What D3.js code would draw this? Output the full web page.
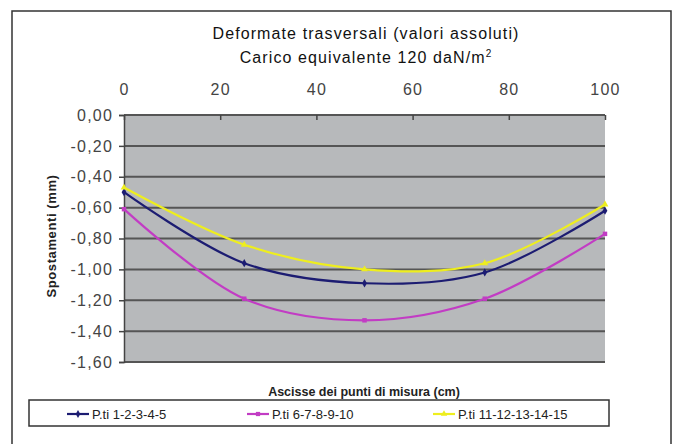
<!DOCTYPE html>
<html>
<head>
<meta charset="utf-8">
<script src="https://cdn.jsdelivr.net/npm/d3@7"></script>
<style>
  body { margin: 0; background: #fff; }
  text { font-family: "Liberation Sans", Arial, sans-serif; }
</style>
</head>
<body>
<div id="graphic"></div>
<script>
// data
const ascisse = [0, 25, 50, 75, 100];
const serie1 = [-0.50, -0.96, -1.09, -1.02, -0.62];   // P.ti 1-2-3-4-5
const serie2 = [-0.61, -1.19, -1.33, -1.19, -0.77];   // P.ti 6-7-8-9-10
const serie3 = [-0.47, -0.84, -1.00, -0.96, -0.58];   // P.ti 11-12-13-14-15
const nomi = ["P.ti 1-2-3-4-5", "P.ti 6-7-8-9-10", "P.ti 11-12-13-14-15"];
const xTicks = [0, 20, 40, 60, 80, 100];
const yTicks = [0, -0.2, -0.4, -0.6, -0.8, -1.0, -1.2, -1.4, -1.6];

const colori = ["#1c1c72", "#c23cc4", "#eeee1e"];
const simboli = [d3.symbolDiamond, d3.symbolSquare, d3.symbolTriangle];

const width = 675, height = 444;
// plot area
const plot = {left: 124, right: 605, top: 115, bottom: 362};

var svg = d3.select("#graphic").append("svg")
        .attr("width", width)
        .attr("height", height);

// outer frame
svg.append("rect")
        .attr("x", 12).attr("y", 11)
        .attr("width", 659).attr("height", 500)
        .style("fill", "#fff")
        .style("stroke", "#333")
        .style("stroke-width", 1.5);

// titles
svg.append("text")
        .attr("x", 366).attr("y", 39)
        .attr("text-anchor", "middle")
        .style("font-size", "16px")
        .style("letter-spacing", "1.1px")
        .style("fill", "#111")
        .text("Deformate trasversali (valori assoluti)");

var t2 = svg.append("text")
        .attr("x", 366).attr("y", 63)
        .attr("text-anchor", "middle")
        .style("font-size", "16px")
        .style("letter-spacing", "1.1px")
        .style("fill", "#111");
t2.append("tspan").text("Carico equivalente 120 daN/m");
t2.append("tspan").attr("dy", -6).style("font-size", "10px").text("2");

// scales
var x = d3.scaleLinear().domain([0, 100]).range([plot.left, plot.right]);
var y = d3.scaleLinear().domain([0, -1.6]).range([plot.top, plot.bottom]);

// plot background
svg.append("rect")
        .attr("x", plot.left).attr("y", plot.top)
        .attr("width", plot.right - plot.left)
        .attr("height", plot.bottom - plot.top)
        .style("fill", "#b7b9bb");

// horizontal gridlines
svg.append("g").selectAll("line")
        .data(yTicks)
        .join("line")
        .attr("x1", plot.left).attr("x2", plot.right)
        .attr("y1", d => y(d)).attr("y2", d => y(d))
        .style("stroke", "#555")
        .style("stroke-width", 2);

// y axis (left)
var fmt = d => d3.format(".2f")(d).replace(".", ",").replace("−", "-");
var y_axis = d3.axisLeft(y)
        .tickValues(yTicks)
        .tickFormat(fmt)
        .tickSize(5)
        .tickPadding(6);

var gy = svg.append("g")
        .attr("transform", "translate(" + plot.left + ",0)")
        .call(y_axis);
gy.select(".domain").style("stroke", "#444").style("stroke-width", 1.5);
gy.selectAll(".tick line").style("stroke", "#444").style("stroke-width", 1.5);
gy.selectAll("text")
        .style("font-size", "16px")
        .style("letter-spacing", "1.2px")
        .style("fill", "#444");

// x axis (top), ticks pointing into the plot
var x_axis = d3.axisTop(x)
        .tickValues(xTicks)
        .tickSize(-5)
        .tickPadding(20);

var gx = svg.append("g")
        .attr("transform", "translate(0," + plot.top + ")")
        .call(x_axis);
gx.select(".domain").remove();
gx.selectAll(".tick line").style("stroke", "#444").style("stroke-width", 1.5);
gx.selectAll("text")
        .style("font-size", "16px")
        .style("letter-spacing", "1.2px")
        .style("fill", "#444");

// axis titles
svg.append("text")
        .attr("transform", "translate(56,236) rotate(-90)")
        .attr("text-anchor", "middle")
        .style("font-size", "13px")
        .style("letter-spacing", "0.6px")
        .style("font-weight", "bold")
        .style("fill", "#222")
        .text("Spostamenti (mm)");

svg.append("text")
        .attr("x", 364).attr("y", 396)
        .attr("text-anchor", "middle")
        .style("font-size", "12.5px")
        .style("font-weight", "bold")
        .style("fill", "#222")
        .text("Ascisse dei punti di misura (cm)");

// series
const serie = [serie1, serie2, serie3];
var line = d3.line()
        .x((d, i) => x(ascisse[i]))
        .y(d => y(d))
        .curve(d3.curveCatmullRom.alpha(0.5));

var gs = svg.append("g");
serie.forEach(function(s, k) {
    gs.append("path")
        .datum(s)
        .attr("d", line)
        .style("fill", "none")
        .style("stroke", colori[k])
        .style("stroke-width", 2.2);
    gs.append("g").selectAll("path")
        .data(s)
        .join("path")
        .attr("transform", (d, i) => "translate(" + x(ascisse[i]) + "," + y(d) + ")")
        .attr("d", d3.symbol().type(simboli[k]).size(20))
        .style("fill", colori[k]);
});

// legend
var leg = svg.append("g");
leg.append("rect")
        .attr("x", 29).attr("y", 400)
        .attr("width", 580).attr("height", 26)
        .style("fill", "#fff")
        .style("stroke", "#333")
        .style("stroke-width", 1.5);

const legX = [67, 247, 433];
nomi.forEach(function(n, k) {
    var g = leg.append("g").attr("transform", "translate(" + legX[k] + ",414)");
    g.append("line")
        .attr("x1", 0).attr("x2", 22)
        .style("stroke", colori[k])
        .style("stroke-width", 2.2);
    g.append("path")
        .attr("transform", "translate(11,0)")
        .attr("d", d3.symbol().type(simboli[k]).size(18))
        .style("fill", colori[k]);
    g.append("text")
        .attr("x", 25).attr("y", 5)
        .style("font-size", "13px")
        .style("fill", "#222")
        .text(n);
});
</script>
</body>
</html>
